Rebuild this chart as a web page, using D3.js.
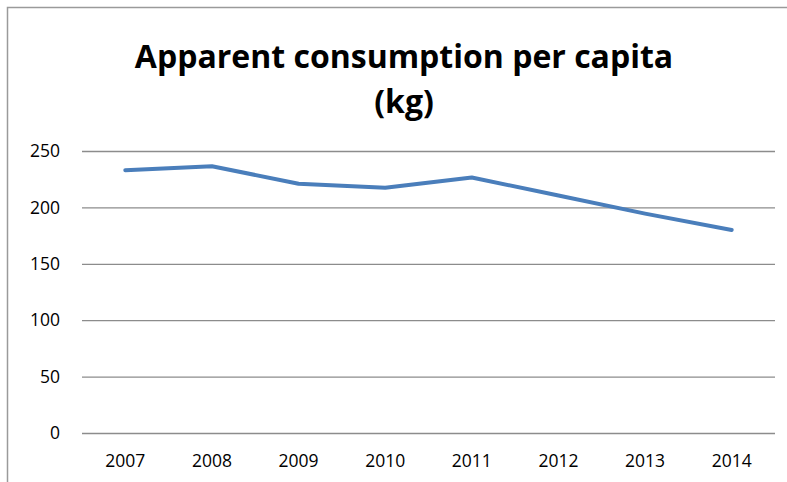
<!DOCTYPE html>
<html lang='en'>
<head>
  <meta charset='UTF-8'>
  <title>Apparent consumption per capita</title>
  <script src="https://d3js.org/d3.v7.min.js"></script>
  <style>
    body { margin: 0; background: #fff; }
    svg { display: block; }
    svg text { font-family: 'Open Sans', 'Liberation Sans', sans-serif; }
  </style>
</head>
<body>
  <div id="chart"></div>
  <script>
    const years = ['2007', '2008', '2009', '2010', '2011', '2012', '2013', '2014'];
    const values = [233, 236.5, 221, 217.5, 226.5, 210.5, 194.5, 180];
    const yTicks = [0, 50, 100, 150, 200, 250];

    const width = 787;
    const height = 482;
    const margin = { top: 151, right: 12, bottom: 49, left: 82 };

    const svg = d3.select('#chart')
      .append('svg')
      .attr('width', width)
      .attr('height', height);

    // outer frame (cut off at right and bottom)
    svg.append('path')
      .attr('d', `M7.5,${height}V7.5H${width}`)
      .attr('fill', 'none')
      .attr('stroke', '#9a9a9a')
      .attr('stroke-width', 1.5);

    // title
    const title = svg.append('text')
      .attr('text-anchor', 'middle')
      .attr('font-weight', 'bold')
      .attr('font-size', 32)
      .attr('fill', '#000');
    title.append('tspan').attr('x', 404).attr('y', 68).text('Apparent consumption per capita');
    title.append('tspan').attr('x', 404).attr('y', 113).text('(kg)');

    const xScale = d3.scaleBand()
      .domain(years)
      .range([margin.left, width - margin.right]);

    const yScale = d3.scaleLinear()
      .domain([0, 250])
      .range([height - margin.bottom, margin.top]);

    // gridlines + y labels
    const yAxis = svg.append('g')
      .attr('transform', `translate(${margin.left}, 0)`)
      .call(d3.axisLeft(yScale)
        .tickValues(yTicks)
        .tickSize(-(width - margin.right - margin.left))
        .tickPadding(22));
    yAxis.attr('font-family', null);
    yAxis.select('.domain').remove();
    yAxis.selectAll('line').attr('stroke', '#8c8c8c').attr('stroke-width', 1.3);
    yAxis.selectAll('text').attr('font-size', 17.5).attr('fill', '#000');

    // x labels
    const xAxis = svg.append('g')
      .attr('transform', `translate(0, ${height - margin.bottom})`)
      .call(d3.axisBottom(xScale).tickSize(0).tickPadding(22));
    xAxis.attr('font-family', null);
    xAxis.select('.domain').remove();
    xAxis.selectAll('text').attr('font-size', 17.5).attr('fill', '#000');

    // line
    const line = d3.line()
      .x((d, i) => xScale(years[i]) + xScale.bandwidth() / 2)
      .y((d) => yScale(d));

    svg.append('path')
      .datum(values)
      .attr('fill', 'none')
      .attr('stroke', '#4a7ebb')
      .attr('stroke-width', 4)
      .attr('stroke-linejoin', 'round')
      .attr('stroke-linecap', 'round')
      .attr('d', line);
  </script>
</body>
</html>
